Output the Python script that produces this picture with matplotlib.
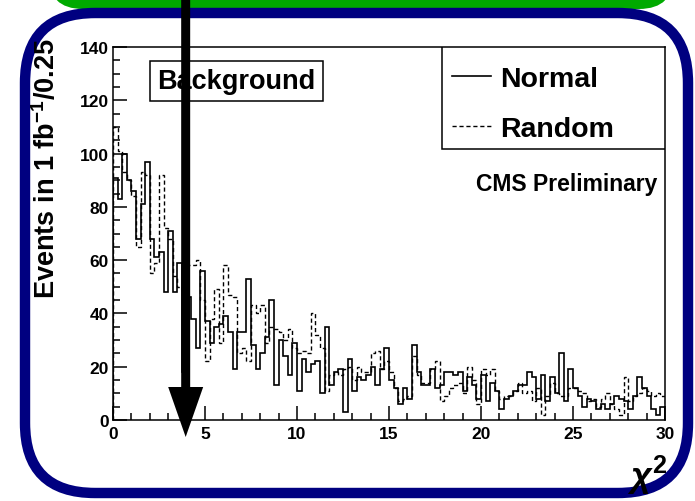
import numpy as np
import matplotlib.pyplot as plt
from matplotlib.patches import FancyBboxPatch, Rectangle, FancyArrow
from matplotlib.ticker import MultipleLocator

plt.rcParams['font.family'] = ['Liberation Sans', 'DejaVu Sans']
plt.rcParams['font.weight'] = 'bold'
plt.rcParams['mathtext.fontset'] = 'custom'
plt.rcParams['mathtext.rm'] = 'Liberation Sans:bold'
plt.rcParams['mathtext.it'] = 'Liberation Sans:italic'
plt.rcParams['mathtext.bf'] = 'Liberation Sans:bold'

# chi2 histogram, 120 bins of width 0.25 from 0 to 30
bin_edges = np.arange(121) * 0.25
normal = [91, 83, 100, 90, 86, 68, 81, 97, 68, 61,
          63, 48, 71, 48, 59, 18, 46, 38, 27, 56,
          37, 29, 35, 36, 39, 33, 19, 33, 33, 53,
          28, 19, 25, 31, 45, 13, 30, 24, 17, 29,
          11, 23, 18, 21, 22, 10, 35, 13, 18, 19,
          3, 23, 11, 16, 15, 17, 20, 13, 19, 27,
          15, 12, 6, 12, 8, 28, 18, 13, 13, 19,
          12, 13, 18, 18, 17, 18, 11, 16, 13, 8,
          17, 7, 14, 11, 4, 8, 9, 11, 13, 13,
          18, 16, 8, 17, 7, 16, 10, 25, 7, 19,
          12, 9, 5, 8, 7, 4, 6, 4, 6, 9,
          8, 7, 4, 9, 16, 12, 9, 4, 2, 5]
random = [110, 101, 93, 90, 84, 65, 93, 92, 55, 59,
          92, 72, 68, 54, 50, 47, 58, 58, 60, 45,
          22, 38, 49, 29, 58, 47, 46, 25, 27, 22,
          43, 40, 43, 29, 35, 34, 33, 30, 34, 27,
          25, 26, 25, 40, 32, 27, 11, 17, 18, 17,
          19, 20, 15, 20, 18, 18, 25, 26, 19, 22,
          18, 12, 7, 8, 9, 24, 17, 14, 14, 19,
          22, 7, 9, 12, 13, 14, 10, 20, 15, 6,
          19, 17, 19, 11, 8, 9, 9, 11, 14, 10,
          11, 7, 12, 2, 9, 14, 10, 9, 9, 12,
          12, 11, 10, 7, 8, 5, 8, 10, 6, 4,
          2, 16, 7, 9, 10, 12, 11, 9, 10, 9]
labels = ["Normal", "Random"]
chi2_cut = 3.95

W, H = 695, 502
fig = plt.figure(figsize=(W / 100, H / 100), dpi=100)

# slide decoration: green box above, navy rounded frame
bg = fig.add_axes([0, 0, 1, 1], zorder=0)
bg.set_xlim(0, W)
bg.set_ylim(H, 0)
bg.axis('off')
bg.add_patch(FancyBboxPatch((48, -80), 626, 90, boxstyle='round,pad=0,rounding_size=35',
                            fc='#00aa00', ec='none'))
bg.add_patch(FancyBboxPatch((25, 14), 663, 480, boxstyle='round,pad=0,rounding_size=70',
                            fc='white', ec='#000080', lw=7.5))

# histogram axes
x0, x1, y0, y1 = 113, 665, 48, 421
ax = fig.add_axes([x0 / W, 1 - y1 / H, (x1 - x0) / W, (y1 - y0) / H], zorder=1)
ax.set_facecolor('none')
h1 = ax.stairs(normal, bin_edges, color='k', lw=1.2, label=labels[0])
h2 = ax.stairs(random, bin_edges, color='k', lw=1.0, ls=(0, (3, 2)), label=labels[1])
ax.set_xlim(0, 30)
ax.set_ylim(0, 140)
ax.xaxis.set_major_locator(MultipleLocator(5))
ax.xaxis.set_minor_locator(MultipleLocator(1))
ax.yaxis.set_major_locator(MultipleLocator(20))
ax.yaxis.set_minor_locator(MultipleLocator(5))
ax.tick_params(which='both', direction='in', top=False, right=False, width=1.1, labelsize=12.5)
ax.tick_params(which='major', length=10)
ax.tick_params(which='minor', length=5)
ax.tick_params(axis='x', pad=4)
ax.tick_params(axis='y', pad=3)
for s in ax.spines.values():
    s.set_linewidth(1.1)

# legend box
ax.add_patch(Rectangle((0.596, 0.7265), 0.404, 0.2735, transform=ax.transAxes,
                       fc='white', ec='k', lw=1.1, zorder=3))
leg = ax.legend(handles=[h1, h2], loc='upper left', bbox_to_anchor=(0.581, 1.0),
                frameon=False, borderpad=0.65, borderaxespad=0, handlelength=1.35,
                handletextpad=0.35, labelspacing=0.85,
                prop={'weight': 'bold', 'size': 20.5})
leg.set_zorder(4)

ax.text(0.223, 0.909, "Background", transform=ax.transAxes, ha='center', va='center',
        fontsize=19.5, fontweight='bold',
        bbox=dict(boxstyle='square,pad=0.27', fc='white', ec='k', lw=1.1))
ax.text(0.987, 0.634, "CMS Preliminary", transform=ax.transAxes, ha='right', va='center',
        fontsize=16.5, fontweight='bold')

fig.text(47 / W, 1 - 38 / H, r"Events in 1 fb$^{-1}$/0.25", rotation=90,
         ha='center', va='top', fontsize=19.5, fontweight='bold')
fig.text(668 / W, 1 - 497 / H, r"$\chi^{\mathbf{2}}$", ha='right', va='bottom',
         fontsize=26, fontweight='normal')

# cut arrow over everything
top = fig.add_axes([0, 0, 1, 1], zorder=5)
top.set_xlim(0, W)
top.set_ylim(H, 0)
top.axis('off')
xa = x0 + chi2_cut / 30 * (x1 - x0)
top.add_patch(FancyArrow(xa, 0, 0, 438, width=9, head_width=35, head_length=50,
                         length_includes_head=True, fc='k', ec='k', lw=0))

fig.savefig('out.png', dpi=100)
